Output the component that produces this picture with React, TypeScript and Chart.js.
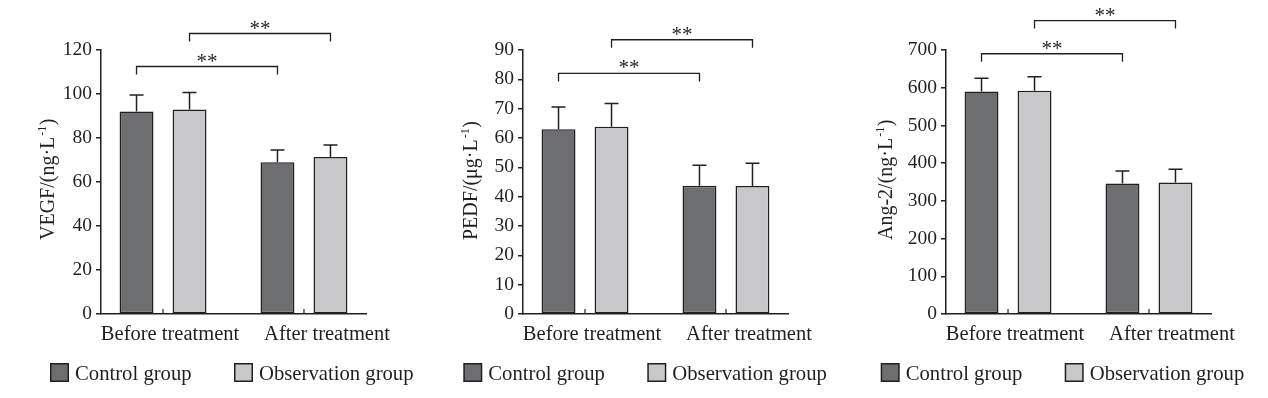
import React, { useEffect, useRef } from 'react';
import { Chart, registerables } from 'chart.js';

Chart.register(...registerables);

// ---------- data ----------
const categories = ['Before treatment', 'After treatment'];
const seriesNames = ['Control group', 'Observation group'];

const vegfControl = [92, 69];
const vegfControlSd = [7.5, 5.5];
const vegfObservation = [93, 71.4];
const vegfObservationSd = [7.7, 5.4];
const vegfBracketLevels = [112.5, 127.5];

const pedfControl = [63, 43.7];
const pedfControlSd = [7.6, 7];
const pedfObservation = [63.8, 43.6];
const pedfObservationSd = [8, 7.8];
const pedfBracketLevels = [82, 93.5];

const ang2Control = [590, 346];
const ang2ControlSd = [35, 33];
const ang2Observation = [592, 349];
const ang2ObservationSd = [37, 35];
const ang2BracketLevels = [690, 778];

const yAxisMax = [120, 90, 700];
const yAxisStep = [20, 10, 100];
const yTitleMain = ['VEGF/(ng·L', 'PEDF/(μg·L', 'Ang-2/(ng·L'];
const yTitleSup = '-1';
const significanceMark = '**';

// ---------- styles ----------
const INK = '#231f20';
const DARK = '#6d6e70';
const LIGHT = '#c8c8ca';
const SERIF = '"Liberation Serif", "Times New Roman", serif';
const PANEL_W = 422;
const PANEL_H = 398;
const panelLeft = [0, 422, 845];
const titleBaselineX = [54, 55, 47];
const legendLeft = [50, 41.3, 35.7];
const labelShift = [7, 23];

const panels = [
  {
    control: vegfControl, controlSd: vegfControlSd,
    observation: vegfObservation, observationSd: vegfObservationSd,
    brackets: vegfBracketLevels, max: yAxisMax[0], step: yAxisStep[0], title: yTitleMain[0],
  },
  {
    control: pedfControl, controlSd: pedfControlSd,
    observation: pedfObservation, observationSd: pedfObservationSd,
    brackets: pedfBracketLevels, max: yAxisMax[1], step: yAxisStep[1], title: yTitleMain[1],
  },
  {
    control: ang2Control, controlSd: ang2ControlSd,
    observation: ang2Observation, observationSd: ang2ObservationSd,
    brackets: ang2BracketLevels, max: yAxisMax[2], step: yAxisStep[2], title: yTitleMain[2],
  },
];

function makeDecor(p: any, idx: number) {
  const sds = [p.controlSd, p.observationSd];
  return {
    id: 'decor' + idx,
    afterDatasetsDraw(chart: any) {
      const ctx = chart.ctx;
      const y = chart.scales.y;
      ctx.save();
      ctx.strokeStyle = INK;
      ctx.lineWidth = 1.5;
      chart.data.datasets.forEach((ds: any, di: number) => {
        const meta = chart.getDatasetMeta(di);
        meta.data.forEach((bar: any, i: number) => {
          const top = y.getPixelForValue(ds.data[i].y + sds[di][i]);
          ctx.beginPath();
          ctx.moveTo(bar.x, bar.y);
          ctx.lineTo(bar.x, top);
          ctx.moveTo(bar.x - 7, top);
          ctx.lineTo(bar.x + 7, top);
          ctx.stroke();
        });
      });
      ctx.restore();
    },
    afterDraw(chart: any) {
      const ctx = chart.ctx;
      const x = chart.scales.x;
      const y = chart.scales.y;
      const area = chart.chartArea;
      ctx.save();
      ctx.strokeStyle = INK;
      ctx.fillStyle = INK;

      // inner category ticks
      ctx.lineWidth = 1.2;
      categories.forEach((_, i) => {
        const px = x.getPixelForValue(i);
        ctx.beginPath();
        ctx.moveTo(px, area.bottom);
        ctx.lineTo(px, area.bottom - 5);
        ctx.stroke();
      });

      // category labels
      ctx.font = `20.5px ${SERIF}`;
      ctx.textAlign = 'center';
      ctx.textBaseline = 'alphabetic';
      categories.forEach((c, i) => {
        ctx.fillText(c, x.getPixelForValue(i) + labelShift[i], 340);
      });

      // significance brackets
      ctx.lineWidth = 1.3;
      p.brackets.forEach((level: number, k: number) => {
        const meta = chart.getDatasetMeta(k);
        const x1 = meta.data[0].x;
        const x2 = meta.data[1].x;
        const yy = y.getPixelForValue(level);
        ctx.beginPath();
        ctx.moveTo(x1, yy + 8);
        ctx.lineTo(x1, yy);
        ctx.lineTo(x2, yy);
        ctx.lineTo(x2, yy + 8);
        ctx.stroke();
        ctx.font = `21px ${SERIF}`;
        ctx.textAlign = 'center';
        ctx.fillText(significanceMark, (x1 + x2) / 2, yy + 1);
      });

      // y title
      ctx.save();
      ctx.translate(titleBaselineX[idx], 240);
      ctx.rotate(-Math.PI / 2);
      ctx.textAlign = 'left';
      ctx.font = `20px ${SERIF}`;
      ctx.fillText(p.title, 0, 0);
      let w = ctx.measureText(p.title).width;
      ctx.font = `12px ${SERIF}`;
      ctx.fillText(yTitleSup, w + 1, -8);
      w += ctx.measureText(yTitleSup).width + 1.5;
      ctx.font = `20px ${SERIF}`;
      ctx.fillText(')', w, 0);
      ctx.restore();

      // legend
      const colors = [DARK, LIGHT];
      seriesNames.forEach((name, k) => {
        const bx = legendLeft[idx] + k * 184;
        ctx.fillStyle = colors[k];
        ctx.fillRect(bx + 0.75, 363.75, 17.5, 17.5);
        ctx.lineWidth = 1.5;
        ctx.strokeStyle = INK;
        ctx.strokeRect(bx + 0.75, 363.75, 17.5, 17.5);
        ctx.fillStyle = INK;
        ctx.font = `20.7px ${SERIF}`;
        ctx.textAlign = 'left';
        ctx.fillText(name, bx + 25, 380);
      });
      ctx.restore();
    },
  };
}

function Panel({ cfg, idx }: { cfg: any; idx: number }) {
  const ref = useRef<HTMLCanvasElement | null>(null);
  useEffect(() => {
    if (!ref.current) return;
    const toPoints = (arr: number[]) => arr.map((v, i) => ({ x: i, y: v }));
    const barCommon = {
      borderColor: INK,
      borderWidth: 1.5,
      borderSkipped: false,
      categoryPercentage: 0.752,
      barPercentage: 0.64,
    };
    const chart = new Chart(ref.current, {
      type: 'bar',
      data: {
        datasets: [
          { label: seriesNames[0], data: toPoints(cfg.control), backgroundColor: DARK, ...barCommon },
          { label: seriesNames[1], data: toPoints(cfg.observation), backgroundColor: LIGHT, ...barCommon },
        ],
      } as any,
      options: {
        animation: false,
        responsive: false,
        maintainAspectRatio: false,
        devicePixelRatio: 1,
        layout: { padding: { left: 0, right: 56, top: 50, bottom: 74 } },
        plugins: { legend: { display: false }, tooltip: { enabled: false } },
        scales: {
          x: {
            type: 'linear',
            min: -0.44,
            max: 1.44,
            offset: false,
            afterBuildTicks: (s: any) => {
              s.ticks = categories.map((_, i) => ({ value: i }));
            },
            afterFit: (s: any) => {
              s.height = 10;
            },
            ticks: { display: false },
            grid: { display: true, drawOnChartArea: false, drawTicks: false },
            border: { display: true, color: INK, width: 1.5 },
          },
          y: {
            min: 0,
            max: cfg.max,
            afterFit: (s: any) => {
              s.width = 101;
            },
            ticks: {
              stepSize: cfg.step,
              color: INK,
              padding: 4,
              font: { family: SERIF, size: 19.5 },
            },
            grid: { drawOnChartArea: false, drawTicks: true, tickLength: 5, color: INK, lineWidth: 1.5 },
            border: { display: true, color: INK, width: 1.5 },
          },
        } as any,
      } as any,
      plugins: [makeDecor(cfg, idx)],
    });
    return () => chart.destroy();
  }, []);
  return (
    <canvas
      ref={ref}
      width={PANEL_W}
      height={PANEL_H}
      style={{ position: 'absolute', left: panelLeft[idx], top: 0, width: PANEL_W, height: PANEL_H }}
    />
  );
}

export default function App() {
  return (
    <div
      style={{
        position: 'absolute',
        left: 0,
        top: 0,
        width: 1268,
        height: 398,
        background: '#ffffff',
        overflow: 'hidden',
      }}
    >
      {panels.map((p, i) => (
        <Panel key={i} cfg={p} idx={i} />
      ))}
    </div>
  );
}
